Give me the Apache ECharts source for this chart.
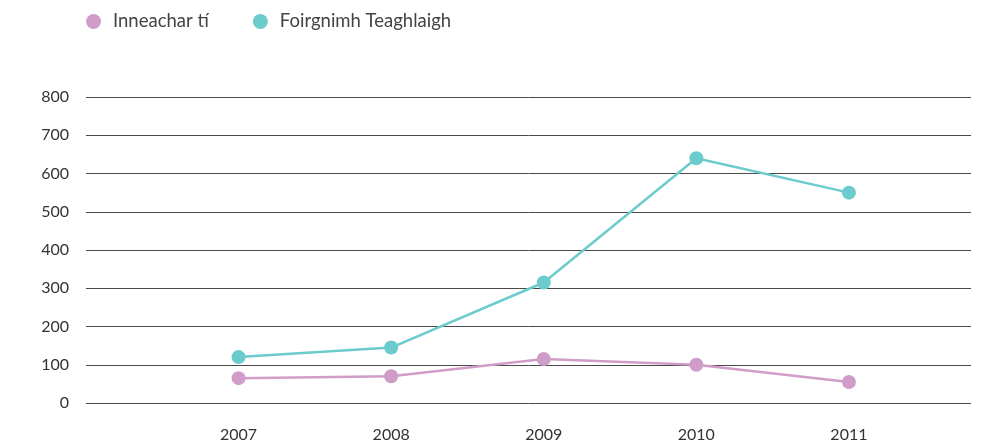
<!DOCTYPE html>
<html><head><meta charset="utf-8">
<script src="https://cdn.jsdelivr.net/npm/echarts@6/dist/echarts.min.js"></script>
<style>html,body{margin:0;padding:0;background:#fff}#c{width:992px;height:446px}</style>
</head><body><div id="c"></div>
<script>
const years = [2007, 2008, 2009, 2010, 2011];
const seriesNames = ['Inneachar tí', 'Foirgnimh Teaghlaigh'];
const inneachar = [65, 70, 115, 100, 55];
const foirgnimh = [120, 145, 315, 640, 550];
const yTicks = [0, 100, 200, 300, 400, 500, 600, 700, 800];

const colors = ['#d09cc8', '#6ccbcc'];
const font = 'Lato, "Noto Sans", sans-serif';
const chart = echarts.init(document.getElementById('c'));
const pairs = arr => years.map((y, i) => [y, arr[i]]);
chart.setOption({
  animation: false,
  color: colors,
  textStyle: { fontFamily: font },
  legend: {
    left: 81, top: 7, itemGap: 44, itemWidth: 15, itemHeight: 15, icon: 'circle',
    textStyle: { fontSize: 18.5, color: '#444', fontFamily: font, padding: [0, 0, 0, 7] },
    data: seriesNames
  },
  grid: { left: 86, right: 21, top: 97, bottom: 43 },
  xAxis: {
    type: 'value', min: 2006, max: 2011.8, interval: 1,
    axisLine: { show: false }, axisTick: { show: false }, splitLine: { show: false },
    axisLabel: {
      margin: 24, fontSize: 16, color: '#333', fontFamily: font,
      showMaxLabel: false,
      formatter: v => years.indexOf(v) >= 0 ? String(v) : ''
    }
  },
  yAxis: {
    type: 'value', min: yTicks[0], max: yTicks[yTicks.length - 1], interval: 100,
    axisLine: { show: false }, axisTick: { show: false },
    splitLine: { lineStyle: { color: '#4a4a4a', width: 1 } },
    axisLabel: { margin: 17, fontSize: 16, color: '#333', fontFamily: font }
  },
  series: [
    { name: seriesNames[0], type: 'line', data: pairs(inneachar), symbol: 'circle', symbolSize: 14,
      lineStyle: { width: 2.5 } },
    { name: seriesNames[1], type: 'line', data: pairs(foirgnimh), symbol: 'circle', symbolSize: 14,
      lineStyle: { width: 2.5 } }
  ]
});
</script></body></html>
